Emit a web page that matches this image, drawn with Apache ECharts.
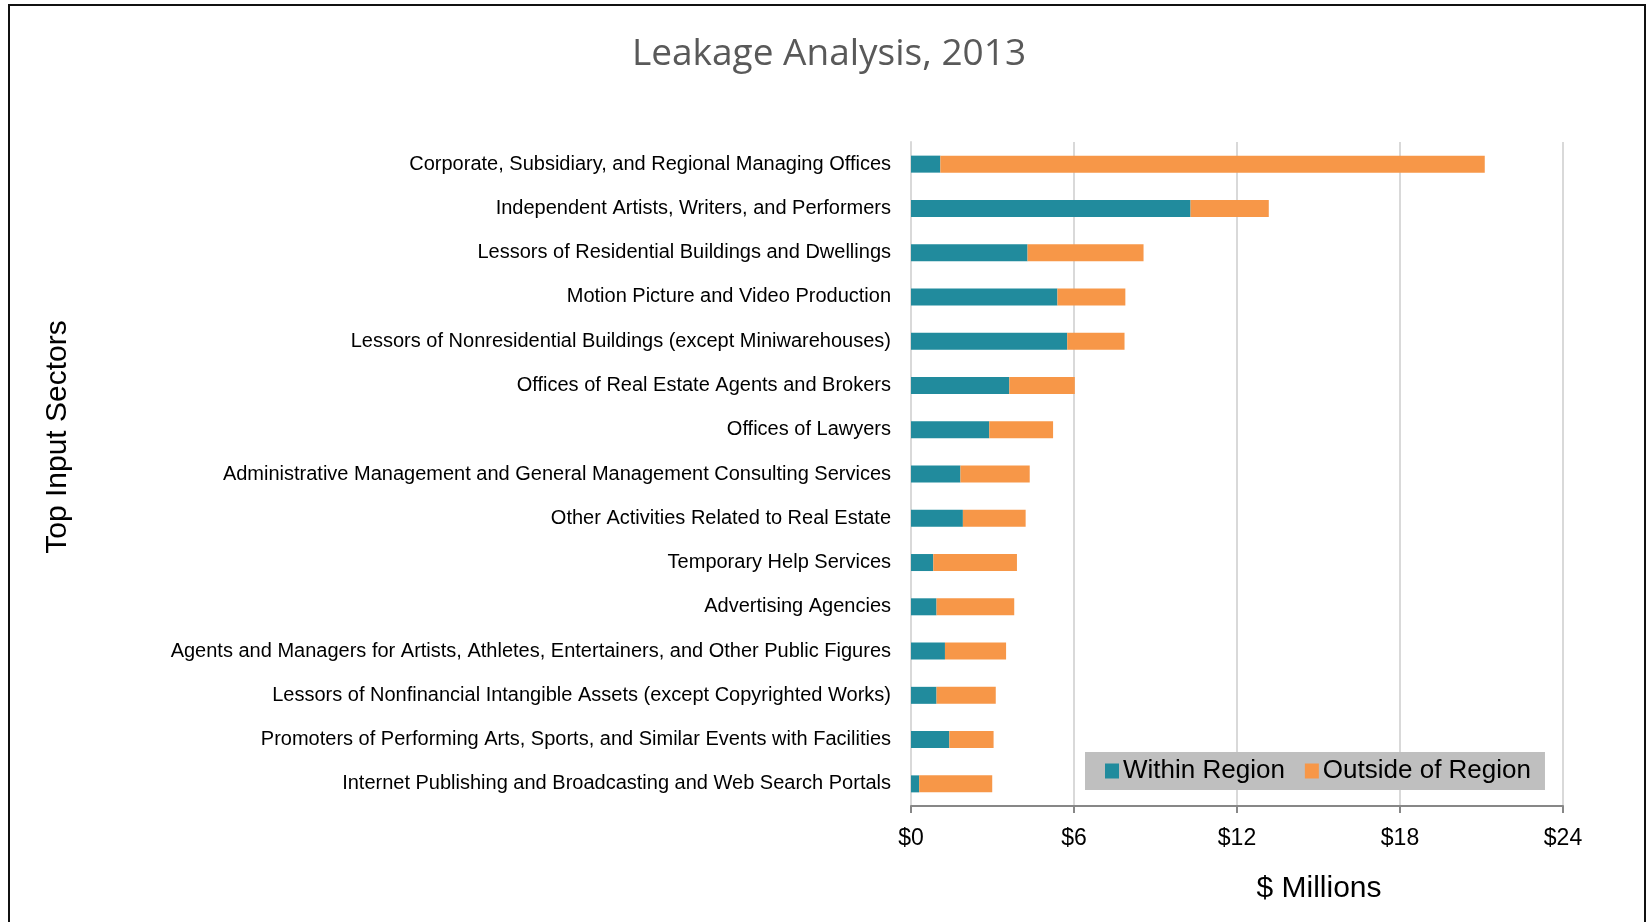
<!DOCTYPE html>
<html>
<head>
<meta charset="utf-8">
<script src="https://cdn.jsdelivr.net/npm/echarts@6/dist/echarts.min.js"></script>
<style>
  html, body { margin: 0; padding: 0; background: #fff; }
  #chart { width: 1648px; height: 922px; }
</style>
</head>
<body>
<div id="chart"></div>
<script>
const sectors = [
  'Corporate, Subsidiary, and Regional Managing Offices',
  'Independent Artists, Writers, and Performers',
  'Lessors of Residential Buildings and Dwellings',
  'Motion Picture and Video Production',
  'Lessors of Nonresidential Buildings (except Miniwarehouses)',
  'Offices of Real Estate Agents and Brokers',
  'Offices of Lawyers',
  'Administrative Management and General Management Consulting Services',
  'Other Activities Related to Real Estate',
  'Temporary Help Services',
  'Advertising Agencies',
  'Agents and Managers for Artists, Athletes, Entertainers, and Other Public Figures',
  'Lessors of Nonfinancial Intangible Assets (except Copyrighted Works)',
  'Promoters of Performing Arts, Sports, and Similar Events with Facilities',
  'Internet Publishing and Broadcasting and Web Search Portals'
]

// $ millions
const withinRegion = [1.08, 10.29, 4.29, 5.39, 5.75, 3.62, 2.88, 1.82, 1.91, 0.82, 0.94, 1.25, 0.94, 1.41, 0.30]
const outsideRegion = [20.04, 2.88, 4.27, 2.50, 2.11, 2.41, 2.35, 2.55, 2.31, 3.08, 2.86, 2.25, 2.18, 1.63, 2.69]

const xTicks = { min: 0, max: 24, interval: 6 }

const narrow = "'Liberation Sans Narrow', 'Arial Narrow', 'Liberation Sans', sans-serif"

const chart = echarts.init(document.getElementById('chart'))

chart.setOption({
  animation: false,
  backgroundColor: '#fff',
  title: [
    {
      text: 'Leakage Analysis, 2013',
      left: 824,
      top: 31,
      textAlign: 'center',
      textStyle: { fontFamily: "'Open Sans', sans-serif", fontWeight: 'normal', fontSize: 37, color: '#595959' }
    },
    {
      text: '$ Millions',
      left: 1314,
      top: 869,
      textAlign: 'center',
      textStyle: { fontFamily: narrow, fontWeight: 'normal', fontSize: 30, color: '#000' }
    }
  ],
  graphic: [
    {
      type: 'rect',
      shape: { x: 9, y: 5, width: 1636, height: 960 },
      style: { fill: 'none', stroke: '#111', lineWidth: 2 },
      silent: true
    },
    {
      type: 'text',
      x: 58,
      y: 437,
      rotation: Math.PI / 2,
      style: {
        text: 'Top Input Sectors',
        font: "30px 'Liberation Sans', Arial, sans-serif",
        fill: '#000',
        align: 'center',
        verticalAlign: 'middle'
      }
    }
  ],
  legend: {
    left: 1085,
    top: 752,
    itemWidth: 14,
    itemHeight: 15,
    itemGap: 20,
    padding: [6, 14, 6, 20],
    backgroundColor: '#bfbfbf',
    icon: 'rect',
    textStyle: { fontFamily: narrow, fontSize: 26, color: '#000', padding: [0, 0, 0, -1] },
    data: ['Within Region', 'Outside of Region']
  },
  grid: {
    left: 911,
    right: 85,
    top: 142,
    bottom: 116
  },
  xAxis: {
    type: 'value',
    min: xTicks.min,
    max: xTicks.max,
    interval: xTicks.interval,
    axisLine: { show: true, lineStyle: { color: '#878787', width: 2 } },
    axisTick: { show: true, length: 7, lineStyle: { color: '#878787', width: 2 } },
    splitLine: { lineStyle: { color: '#d9d9d9', width: 2 } },
    axisLabel: {
      formatter: '${value}',
      fontFamily: narrow,
      fontSize: 23,
      color: '#000',
      margin: 21
    }
  },
  yAxis: {
    type: 'category',
    inverse: true,
    data: sectors,
    axisLine: { show: true, lineStyle: { color: '#d9d9d9', width: 2 } },
    axisTick: { show: false },
    axisLabel: {
      fontFamily: narrow,
      fontSize: 20,
      color: '#000',
      margin: 20
    }
  },
  series: [
    {
      name: 'Within Region',
      type: 'bar',
      stack: 'total',
      data: withinRegion,
      barWidth: 17,
      itemStyle: { color: '#218b9d' }
    },
    {
      name: 'Outside of Region',
      type: 'bar',
      stack: 'total',
      data: outsideRegion,
      barWidth: 17,
      itemStyle: { color: '#f79748' }
    }
  ]
})

window.addEventListener('resize', () => chart.resize())
</script>
</body>
</html>
